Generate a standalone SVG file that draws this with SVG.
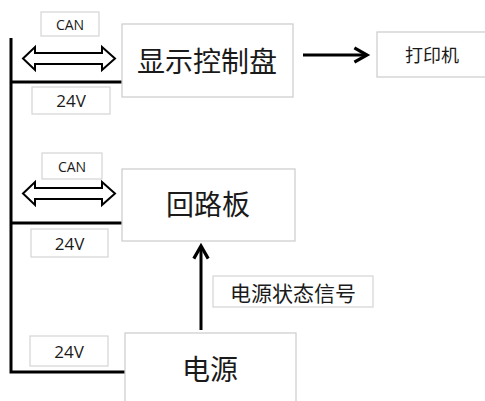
<svg xmlns="http://www.w3.org/2000/svg" width="485" height="401" viewBox="0 0 485 401">
<style>
.box{fill:#fff;stroke:#cfcfcf;stroke-width:1.3}
.lbl{fill:#fff;stroke:#d4d4d4;stroke-width:1.2}
.t{font-family:"Noto Sans CJK SC","Liberation Sans",sans-serif;fill:#1a1a1a;text-anchor:middle;dominant-baseline:central}
.e{font-family:"Open Sans","Liberation Sans",sans-serif;fill:#1a1a1a;text-anchor:middle;dominant-baseline:central}
.w{fill:none;stroke:#000;stroke-width:3}
.dbl{fill:#fff;stroke:#000;stroke-width:2;stroke-linejoin:miter}
</style>
<defs>
<marker id="ah" viewBox="0 0 10 10" refX="8" refY="5" markerWidth="6" markerHeight="6" orient="auto" markerUnits="strokeWidth">
<path d="M1,1 L8,5 L1,9" fill="none" stroke="#000" stroke-width="1.8"/>
</marker>
</defs>
<g id="connectors">
<path class="w" d="M11,38 V372 H125"/>
<path class="w" d="M11,82 H122"/>
<path class="w" d="M11,223 H122"/>
<path class="dbl" d="M23,58.5 L35,47 L35,53 L102,53 L102,47 L115,58.5 L102,70 L102,64 L35,64 L35,70 Z"/>
<path class="dbl" d="M23,193.5 L35,182 L35,188 L102,188 L102,182 L115,193.5 L102,205 L102,199 L35,199 L35,205 Z"/>
<line class="w" x1="303" y1="55" x2="367" y2="55" marker-end="url(#ah)"/>
<line class="w" x1="201" y1="330" x2="201" y2="246" marker-end="url(#ah)"/>
</g>
<g id="can1"><rect class="lbl" x="41" y="12" width="58" height="24"/><text class="e" x="70" y="24" font-size="14">CAN</text></g>
<g id="v1"><rect class="lbl" x="32" y="87" width="78" height="27"/><text class="e" x="71" y="100.5" font-size="17">24V</text></g>
<g id="can2"><rect class="lbl" x="42" y="153" width="60" height="26"/><text class="e" x="72" y="166" font-size="14">CAN</text></g>
<g id="v2"><rect class="lbl" x="31" y="229" width="77" height="28"/><text class="e" x="69.5" y="243" font-size="17">24V</text></g>
<g id="v3"><rect class="lbl" x="30" y="336" width="78" height="30"/><text class="e" x="69" y="351" font-size="17">24V</text></g>
<g id="display"><rect class="box" x="122" y="24" width="171" height="73"/><text class="t" x="207" y="60" font-size="28">显示控制盘</text></g>
<g id="printer"><rect class="box" x="377" y="32" width="115" height="45"/><text class="t" x="432" y="54" font-size="18">打印机</text></g>
<g id="loop"><rect class="box" x="122" y="169" width="173" height="72"/><text class="t" x="208" y="203" font-size="28">回路板</text></g>
<g id="siglabel"><rect class="lbl" x="213" y="276" width="160" height="31"/><text class="t" x="293" y="291.5" font-size="21">电源状态信号</text></g>
<g id="power"><rect class="box" x="125" y="333" width="171" height="80"/><text class="t" x="210" y="368" font-size="28">电源</text></g>
</svg>
